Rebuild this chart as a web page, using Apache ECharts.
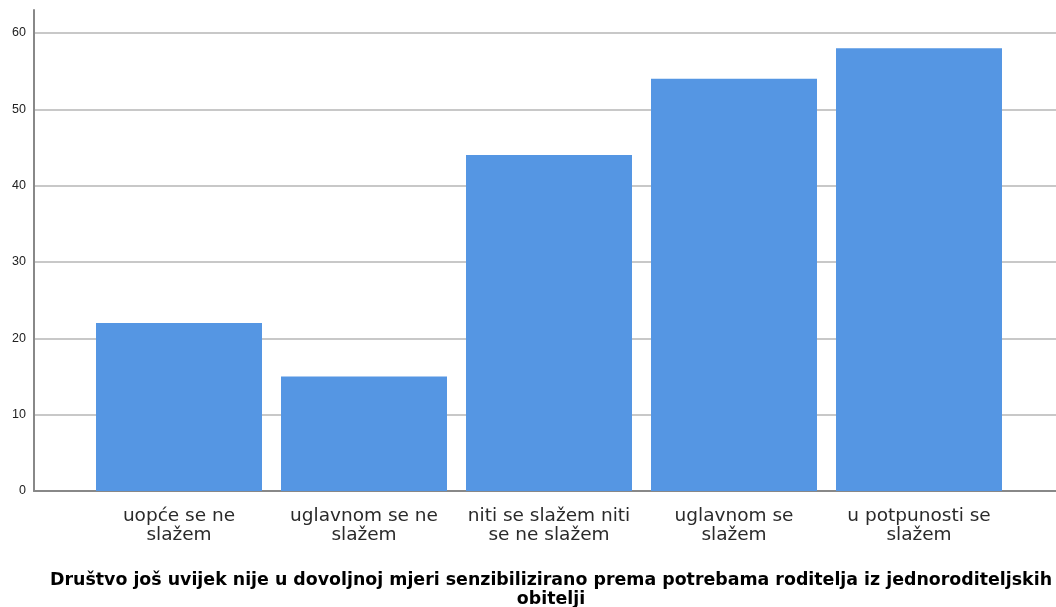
<!DOCTYPE html>
<html><head><meta charset="utf-8">
<script src="https://cdn.jsdelivr.net/npm/echarts@6/dist/echarts.min.js"></script>
<style>html,body{margin:0;padding:0;background:#fff}#c{width:1056px;height:607px}</style>
</head><body><div id="c"></div>
<script>
const categories = ["uopće se ne\nslažem", "uglavnom se ne\nslažem", "niti se slažem niti\nse ne slažem", "uglavnom se\nslažem", "u potpunosti se\nslažem"];
const counts = [22, 15, 44, 54, 58];
const yTicks = [0, 10, 20, 30, 40, 50, 60];
const titleText = "Društvo još uvijek nije u dovoljnoj mjeri senzibilizirano prema potrebama roditelja iz jednoroditeljskih\nobitelji";

const font = '"Liberation Sans", Arial, sans-serif';
const wide = '"DejaVu Sans", sans-serif';
const chart = echarts.init(document.getElementById('c'), null, {renderer: 'canvas'});
chart.setOption({
  animation: false,
  title: {
    text: titleText, left: 546, top: 566, textAlign: 'center',
    textStyle: {fontFamily: wide, fontSize: 17.4, fontWeight: 'bold', color: '#000', lineHeight: 19}
  },
  grid: [
    {left: 34, right: 0, top: 10, bottom: 116},
    {left: 86.5, right: 44.5, top: 10, bottom: 116}
  ],
  xAxis: [
    {gridIndex: 0, type: 'value', min: 0, max: 1, axisLabel: {show: false}, axisTick: {show: false}, splitLine: {show: false},
     axisLine: {show: true, lineStyle: {color: '#888', width: 2}}},
    {gridIndex: 1, type: 'category', data: categories, axisLine: {show: false}, axisTick: {show: false},
     axisLabel: {fontFamily: wide, fontSize: 18.5, color: '#2a2a2a', lineHeight: 19, margin: 16, interval: 0}}
  ],
  yAxis: [
    {gridIndex: 0, type: 'value', min: 0, max: 63, interval: 10,
     axisLine: {show: true, lineStyle: {color: '#888', width: 2}}, axisTick: {show: false},
     axisLabel: {fontFamily: font, fontSize: 12.5, color: '#222', margin: 8, showMaxLabel: false,
       formatter: v => yTicks.includes(v) ? String(v) : ''},
     splitLine: {show: true, showMaxLine: false, lineStyle: {color: '#c8c8c8', width: 2}}},
    {gridIndex: 1, type: 'value', min: 0, max: 63, interval: 10, show: false, splitLine: {show: false}}
  ],
  series: [{
    type: 'bar', xAxisIndex: 1, yAxisIndex: 1, data: counts, barWidth: 166,
    itemStyle: {color: '#5596e3'}
  }]
});
</script></body></html>
